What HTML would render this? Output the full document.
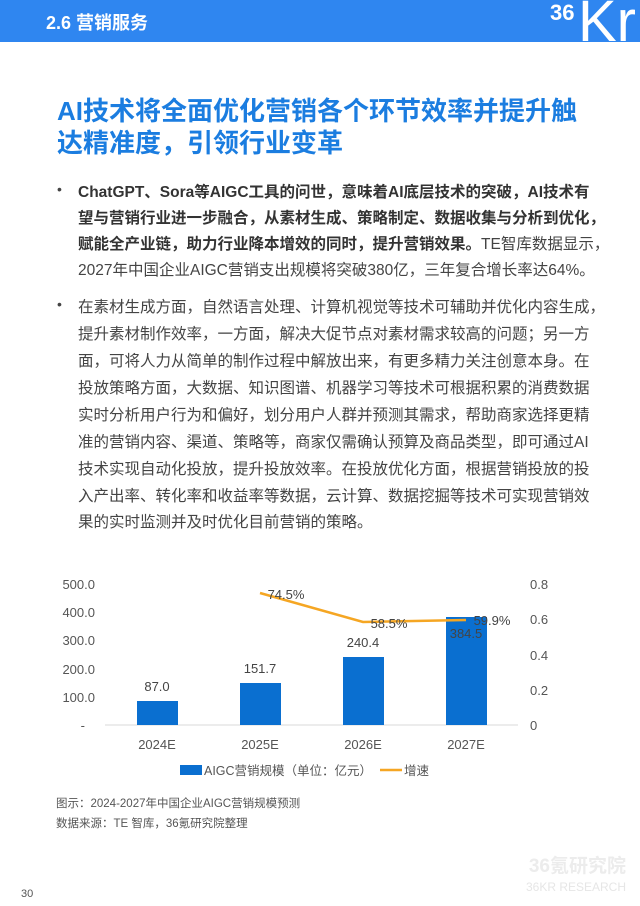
<!DOCTYPE html>
<html><head><meta charset="utf-8"><style>
body{margin:0;width:640px;height:906px;background:#fff;position:relative;overflow:hidden;font-family:"Liberation Sans","Noto Sans CJK SC",sans-serif;}
.hd{position:absolute;left:0;top:0;width:640px;height:42px;background:#2f86f0;}
.hd span{position:absolute;left:46px;top:9px;color:#fff;font-size:18px;font-weight:bold;}
.t{position:absolute;left:57px;color:#1b7de0;font-size:26px;font-weight:bold;white-space:nowrap;}
.l{position:absolute;left:78px;font-size:15.5px;color:#444;white-space:nowrap;}
.b{font-weight:bold;color:#333}
.dot{position:absolute;left:57px;font-size:14px;color:#444}
</style></head><body>
<div class="hd"><span>2.6 营销服务</span></div>
<div style="position:absolute;left:550px;top:-2px;color:#fff;font-size:22px;font-weight:bold;line-height:30px;font-family:'Liberation Sans',sans-serif">36</div>
<div style="position:absolute;left:578px;top:-8px;color:#fff;font-size:58px;line-height:60px;font-family:'Liberation Sans',sans-serif">Kr</div>
<div class="t" style="top:91px">AI技术将全面优化营销各个环节效率并提升触</div>
<div class="t" style="top:123px">达精准度，引领行业变革</div>
<div class="dot" style="top:181px">•</div>
<div class="l b" style="top:180px">ChatGPT、Sora等AIGC工具的问世，意味着AI底层技术的突破，AI技术有</div>
<div class="l b" style="top:206px">望与营销行业进一步融合，从素材生成、策略制定、数据收集与分析到优化，</div>
<div class="l" style="top:232px"><span class="b">赋能全产业链，助力行业降本增效的同时，提升营销效果。</span>TE智库数据显示，</div>
<div class="l" style="top:258px">2027年中国企业AIGC营销支出规模将突破380亿，三年复合增长率达64%。</div>
<div class="dot" style="top:296px">•</div>
<div class="l" style="top:295px">在素材生成方面，自然语言处理、计算机视觉等技术可辅助并优化内容生成，</div>
<div class="l" style="top:322px">提升素材制作效率，一方面，解决大促节点对素材需求较高的问题；另一方</div>
<div class="l" style="top:349px">面，可将人力从简单的制作过程中解放出来，有更多精力关注创意本身。在</div>
<div class="l" style="top:376px">投放策略方面，大数据、知识图谱、机器学习等技术可根据积累的消费数据</div>
<div class="l" style="top:403px">实时分析用户行为和偏好，划分用户人群并预测其需求，帮助商家选择更精</div>
<div class="l" style="top:430px">准的营销内容、渠道、策略等，商家仅需确认预算及商品类型，即可通过AI</div>
<div class="l" style="top:457px">技术实现自动化投放，提升投放效率。在投放优化方面，根据营销投放的投</div>
<div class="l" style="top:484px">入产出率、转化率和收益率等数据，云计算、数据挖掘等技术可实现营销效</div>
<div class="l" style="top:510px">果的实时监测并及时优化目前营销的策略。</div>

<svg style="position:absolute;left:0;top:0" width="640" height="906">
<line x1="105" y1="725" x2="518" y2="725" stroke="#d9d9d9" stroke-width="1"/>
<rect x="137" y="701" width="41" height="24" fill="#0a6fd0"/>
<rect x="240" y="683" width="41" height="42" fill="#0a6fd0"/>
<rect x="343" y="657" width="41" height="68" fill="#0a6fd0"/>
<rect x="446" y="617" width="41" height="108" fill="#0a6fd0"/>
<polyline points="260,593 363,622 466,620" fill="none" stroke="#f5a623" stroke-width="2.5"/>
<g font-family="Liberation Sans,sans-serif" font-size="13" fill="#444" text-anchor="middle">
<text x="157" y="691">87.0</text><text x="260" y="673">151.7</text><text x="363" y="647">240.4</text><text x="466" y="638">384.5</text>
<text x="286" y="599">74.5%</text><text x="389" y="628">58.5%</text><text x="492" y="625">59.9%</text>
<text x="157" y="749" fill="#555">2024E</text><text x="260" y="749" fill="#555">2025E</text><text x="363" y="749" fill="#555">2026E</text><text x="466" y="749" fill="#555">2027E</text>
</g>
<g font-family="Liberation Sans,sans-serif" font-size="13" fill="#555" text-anchor="end">
<text x="95" y="589">500.0</text><text x="95" y="617">400.0</text><text x="95" y="645">300.0</text><text x="95" y="674">200.0</text><text x="95" y="702">100.0</text><text x="85" y="730">-</text>
</g>
<g font-family="Liberation Sans,sans-serif" font-size="13" fill="#555">
<text x="530" y="589">0.8</text><text x="530" y="624">0.6</text><text x="530" y="660">0.4</text><text x="530" y="695">0.2</text><text x="530" y="730">0</text>
</g>
<rect x="180" y="765" width="22" height="10" fill="#0a6fd0"/>
<text x="204" y="775" font-family="Liberation Sans,Noto Sans CJK SC,sans-serif" font-size="12.5" fill="#555">AIGC营销规模（单位：亿元）</text>
<line x1="380" y1="770" x2="402" y2="770" stroke="#f5a623" stroke-width="2.5"/>
<text x="404" y="775" font-family="Liberation Sans,Noto Sans CJK SC,sans-serif" font-size="12.5" fill="#555">增速</text>
<text x="56" y="807" font-family="Liberation Sans,Noto Sans CJK SC,sans-serif" font-size="11.5" fill="#555">图示：2024-2027年中国企业AIGC营销规模预测</text>
<text x="56" y="827" font-family="Liberation Sans,Noto Sans CJK SC,sans-serif" font-size="11.5" fill="#555">数据来源：TE 智库，36氪研究院整理</text>
<text x="21" y="897" font-family="Liberation Sans,sans-serif" font-size="11" fill="#555">30</text>
<text x="626" y="872" text-anchor="end" font-family="Liberation Sans,Noto Sans CJK SC,sans-serif" font-size="19" font-weight="bold" fill="#ececec">36氪研究院</text>
<text x="626" y="891" text-anchor="end" font-family="Liberation Sans,sans-serif" font-size="12" fill="#e6e6e6">36KR RESEARCH</text>
</svg>
</body></html>
